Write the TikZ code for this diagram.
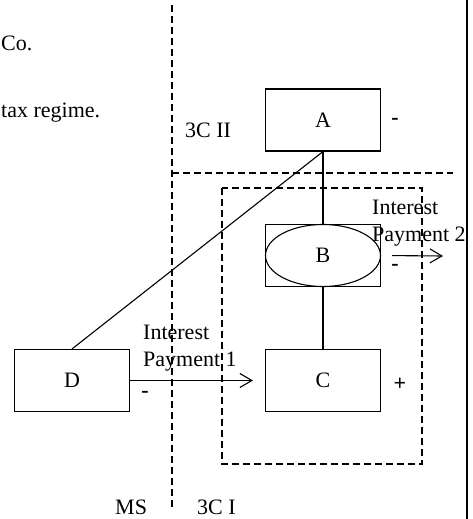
\documentclass[tikz,border=0pt]{standalone}
\usepackage{fontspec}
\setmainfont{Liberation Serif}
\usetikzlibrary{shapes.geometric,arrows.meta}
\begin{document}
\begin{tikzpicture}[x=1pt,y=-1pt,
  every node/.style={font=\fontsize{22}{27}\selectfont},
  entity/.style={draw,line width=1.1pt,minimum width=115pt,minimum height=62pt,inner sep=0pt},
  oval/.style={draw,ellipse,line width=1.1pt,minimum width=115pt,minimum height=62pt,inner sep=0pt},
  border/.style={line width=1.1pt,dash pattern=on 7pt off 4pt},
  link/.style={line width=1.1pt},
  flow/.style={line width=1.1pt,-{Straight Barb[length=12pt,width=14pt,line width=1.1pt]}},
  sign/.style={inner sep=0pt,font=\fontsize{22}{27}\selectfont\bfseries},
  lbl/.style={inner sep=0pt,anchor=west,align=left}
]
\useasboundingbox (0,0) rectangle (473,519);
% region borders
\draw[border] (172,5) -- (172,507);
\draw[border] (172,173) -- (453,173);
\draw[border] (222,188) rectangle (422,464);
\draw[line width=1.1pt] (467,0) -- (467,519);
% entities
\node[entity] (A) at (323,120) {A};
\node[entity] (B) at (323,255.5) {};
\node[oval] (Bo) at (323,255.5) {B};
\node[entity] (C) at (323,380.5) {C};
\node[entity] (D) at (72,380.5) {D};
% connectors
\draw[link] (A.south) -- (B.north);
\draw[link] (B.south) -- (C.north);
\draw[link] (A.south) -- (D.north);
\draw[flow,shorten >=12pt] (D.east) -- (C.west);
\coordinate (p2) at (443,256);
\draw[flow,shorten <=11pt] (B.east) -- (p2);
% labels
\node[sign] at (395,121) {-};
\node[sign] at (400,384) {+};
\node[sign] at (395,267) {-};
\node[sign] at (145,394) {-};
\node[lbl] at (143,348.5) {Interest\\Payment 1};
\node[lbl] at (372,223.5) {Interest\\Payment 2};
\node[lbl] at (185,130) {3C II};
\node[lbl] at (115,507) {MS};
\node[lbl] at (197,507) {3C I};
\node[lbl] at (1,43) {Co.};
\node[lbl] at (1,113) {tax regime.};
\end{tikzpicture}
\end{document}
